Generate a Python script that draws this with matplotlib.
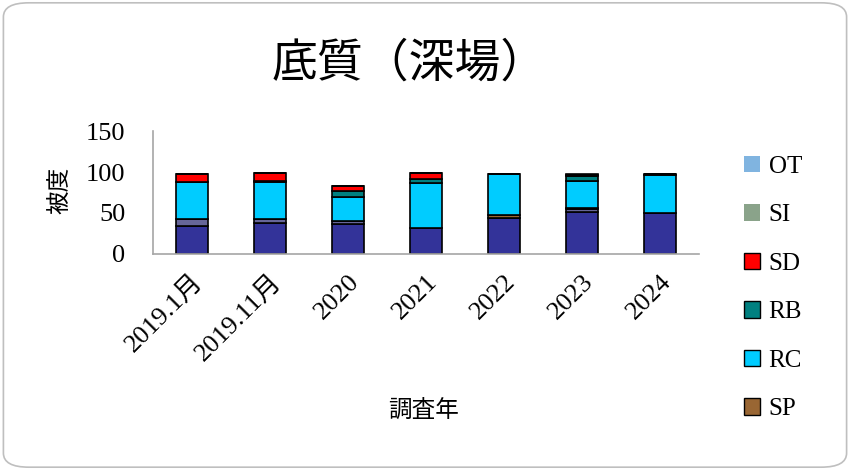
import numpy as np
import matplotlib.pyplot as plt
from matplotlib.patches import Patch, FancyBboxPatch

plt.rcParams['font.family'] = ['Liberation Serif', 'Noto Sans CJK JP']

years = ["2019.1月", "2019.11月", "2020", "2021", "2022", "2023", "2024"]

# stacked from bottom; the two lowest series are cut off the visible legend
mu = [34, 38, 36.5, 31, 44, 51.5, 50.5]
gr = [8.5, 5, 4, 0, 0, 3, 0]
sp = [0, 0, 0, 0, 3, 2, 0]
rc = [45.5, 45, 29.5, 55, 50, 33, 45.5]
rb = [0, 1.5, 6.5, 5, 0, 5.5, 1.5]
sd = [10, 9, 6.5, 7.5, 0, 0, 0]
si = [0, 0, 0, 0, 0, 1.5, 0]
ot = [0, 0, 0, 0, 0, 0.7, 0]

series = [
    ("MU", mu, "#333399"),
    ("GR", gr, "#666699"),
    ("SP", sp, "#996633"),
    ("RC", rc, "#00CCFF"),
    ("RB", rb, "#008080"),
    ("SD", sd, "#FF0000"),
    ("SI", si, "#8AA38A"),
    ("OT", ot, "#80B4E0"),
]


def main():
    fig = plt.figure(figsize=(8.5, 4.7), dpi=100)
    ax = fig.add_axes([0.18, 0.46, 0.642, 0.261])

    x = np.arange(len(years))
    bottom = np.zeros(len(years))
    for name, vals, color in series:
        vals = np.array(vals, dtype=float)
        ax.bar(x, vals, bottom=bottom, width=0.41, color=color,
               edgecolor="black", linewidth=1.2, zorder=2)
        bottom += vals

    ax.set_xlim(-0.5, len(years) - 0.5)
    ax.set_ylim(0, 150)
    ax.set_yticks([0, 50, 100, 150])
    ax.set_xticks(x)
    ax.set_xticklabels(years, rotation=45, ha="right", rotation_mode="anchor",
                       fontsize=19)
    ax.tick_params(axis="y", labelsize=19, length=0, pad=20)
    ax.tick_params(axis="x", length=0, pad=12)
    for s in ["top", "right"]:
        ax.spines[s].set_visible(False)
    for s in ["left", "bottom"]:
        ax.spines[s].set_color("#A6A6A6")
        ax.spines[s].set_linewidth(1.2)

    fig.text(0.482, 0.865, "底質（深場）", ha="center", va="center",
             fontsize=33, family=["Noto Sans CJK JP"])
    fig.text(0.072, 0.595, "被度", ha="center", va="center", rotation=90,
             fontsize=17, family=["Noto Sans CJK JP"])
    fig.text(0.498, 0.128, "調査年", ha="center", va="center",
             fontsize=17, family=["Noto Sans CJK JP"])

    legend_names = ["OT", "SI", "SD", "RB", "RC", "SP"]
    colors = {name: color for name, _, color in series}
    handles = []
    for name in legend_names:
        edge = "none" if name in ("OT", "SI") else "black"
        handles.append(Patch(facecolor=colors[name], edgecolor=edge,
                             linewidth=1.0, label=name))
    fig.legend(handles=handles, loc="upper left",
               bbox_to_anchor=(0.864, 0.69), frameon=False, fontsize=18,
               labelspacing=1.06, handlelength=0.62, handleheight=0.62,
               handletextpad=0.35, borderaxespad=0)

    border = FancyBboxPatch((0.004, 0.006), 0.992, 0.988,
                            boxstyle="round,pad=0,rounding_size=0.03",
                            transform=fig.transFigure, facecolor="none",
                            edgecolor="#BFBFBF", linewidth=1.2)
    fig.patches.append(border)

    fig.savefig("out.png", dpi=100)


if __name__ == "__main__":
    main()
